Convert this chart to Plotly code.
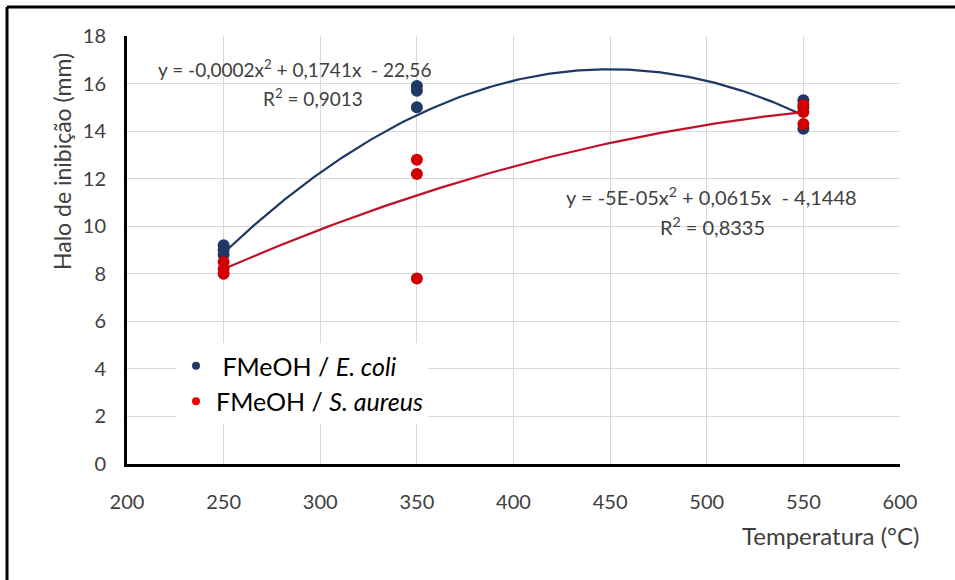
import numpy as np
import plotly.graph_objects as go

# ---- data ----
temp_ecoli = [250, 250, 250, 350, 350, 350, 550, 550, 550]
halo_ecoli = [9.2, 9.0, 8.8, 15.9, 15.7, 15.0, 15.3, 15.0, 14.1]
temp_saureus = [250, 250, 250, 350, 350, 350, 550, 550, 550]
halo_saureus = [8.5, 8.2, 8.0, 12.8, 12.2, 7.8, 15.1, 14.8, 14.3]

# polynomial trendline coefficients (a, b, c) as drawn
trend_ecoli = [-0.0001935, 0.1741, -22.56]
trend_saureus = [-0.000045, 0.058, -3.4875]
trend_range = [250, 550]

eq_ecoli = ["y = -0,0002x<sup>2</sup> + 0,1741x  - 22,56", "R<sup>2</sup> = 0,9013"]
eq_saureus = ["y = -5E-05x<sup>2</sup> + 0,0615x  - 4,1448", "R<sup>2</sup> = 0,8335"]

names = ["FMeOH / <i>E. coli</i>", "FMeOH / <i>S. aureus</i>"]

x_ticks = [200, 250, 300, 350, 400, 450, 500, 550, 600]
y_ticks = [0, 2, 4, 6, 8, 10, 12, 14, 16, 18]

BLUE = "#1f3864"
RED_PT = "#d00000"
RED_LN = "#c0102a"
TXT = "#404040"
FONT = "Lato"

xs = np.linspace(trend_range[0], trend_range[1], 200)

fig = go.Figure()
fig.add_trace(go.Scatter(x=xs, y=np.polyval(trend_ecoli, xs), mode="lines",
                         line=dict(color=BLUE, width=2.2), showlegend=False, hoverinfo="skip"))
fig.add_trace(go.Scatter(x=xs, y=np.polyval(trend_saureus, xs), mode="lines",
                         line=dict(color=RED_LN, width=2.2), showlegend=False, hoverinfo="skip"))
fig.add_trace(go.Scatter(x=temp_ecoli, y=halo_ecoli, mode="markers", showlegend=False,
                         marker=dict(color=BLUE, size=12)))
fig.add_trace(go.Scatter(x=temp_saureus, y=halo_saureus, mode="markers", showlegend=False,
                         marker=dict(color=RED_PT, size=12)))
# legend entries with the small legend dots
fig.add_trace(go.Scatter(x=[None], y=[None], mode="markers", name=" " + names[0],
                         marker=dict(color=BLUE, size=8)))
fig.add_trace(go.Scatter(x=[None], y=[None], mode="markers", name=names[1],
                         marker=dict(color="#ee0000", size=8)))

L, R, T, B = 127, 55, 36, 116
W, H = 955, 580
pw, ph = W - L - R, H - T - B

def px(xp):
    return (xp - L) / pw

def py(yp):
    return (T + ph - yp) / ph

annots = [
    dict(text=eq_ecoli[0], x=px(294), y=py(68), size=19),
    dict(text=eq_ecoli[1], x=px(313), y=py(98), size=19),
    dict(text=eq_saureus[0], x=px(711), y=py(196), size=20),
    dict(text=eq_saureus[1], x=px(712), y=py(226), size=20),
]
annotations = [dict(xref="paper", yref="paper", showarrow=False, xanchor="center",
                    yanchor="middle", text=a["text"], x=a["x"], y=a["y"],
                    font=dict(family=FONT, size=a["size"], color=TXT))
               for a in annots]
annotations.append(dict(text="Halo de inibição (mm)", xref="paper", yref="paper",
                        x=px(62), y=py(162), textangle=-90, showarrow=False,
                        xanchor="center", yanchor="middle",
                        font=dict(family=FONT, size=23, color=TXT)))
annotations.append(dict(text="Temperatura (°C)", xref="paper", yref="paper",
                        x=px(831), y=py(535), showarrow=False,
                        xanchor="center", yanchor="middle",
                        font=dict(family=FONT, size=24, color=TXT)))

shapes = [
    dict(type="line", xref="paper", yref="paper", x0=px(7), x1=px(960), y0=py(7), y1=py(7),
         line=dict(color="black", width=3)),
    dict(type="line", xref="paper", yref="paper", x0=px(7), x1=px(7), y0=py(7), y1=py(590),
         line=dict(color="black", width=3)),
]

fig.update_layout(
    width=W, height=H,
    margin=dict(l=L, r=R, t=T, b=B),
    paper_bgcolor="white", plot_bgcolor="white",
    font=dict(family=FONT, color=TXT, size=20),
    showlegend=True,
    legend=dict(x=px(176), y=py(343), xanchor="left", yanchor="top",
                bgcolor="white", font=dict(family=FONT, size=25, color="black"),
                tracegroupgap=0, itemwidth=30),
    xaxis=dict(range=[200, 600], tickvals=x_ticks, ticktext=[str(v) for v in x_ticks],
               showgrid=True, gridcolor="#d9d9d9", gridwidth=1,
               showline=True, linecolor="black", linewidth=3, zeroline=False,
               ticks="", ticklabelstandoff=18, tickfont=dict(size=20, color=TXT)),
    yaxis=dict(range=[0, 18], tickvals=y_ticks, ticktext=[str(v) for v in y_ticks],
               showgrid=True, gridcolor="#d9d9d9", gridwidth=1,
               showline=True, linecolor="black", linewidth=3, zeroline=False,
               ticks="", ticklabelstandoff=14, tickfont=dict(size=20, color=TXT)),
    annotations=annotations,
    shapes=shapes,
)

fig.write_html("out.html")
